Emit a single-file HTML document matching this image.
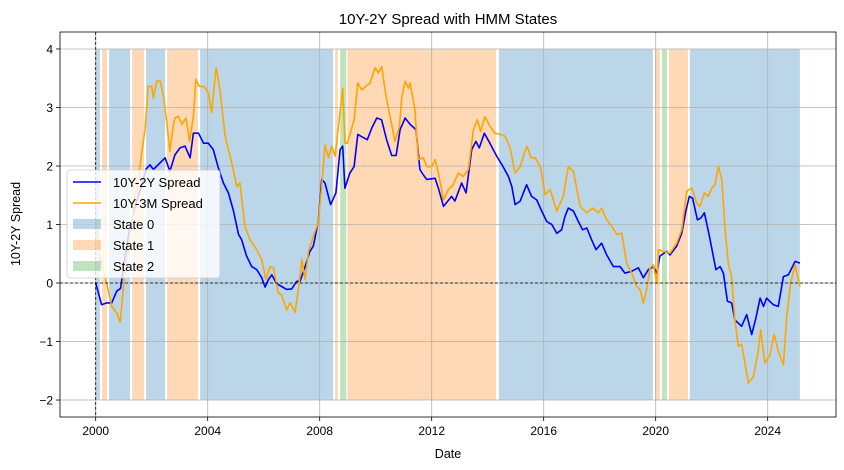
<!DOCTYPE html>
<html><head><meta charset="utf-8"><style>
body{margin:0;background:#fff;}
svg{display:block;font-family:"Liberation Sans","DejaVu Sans",sans-serif;}
</style></head><body>
<svg id="chart" width="844" height="470" viewBox="0 0 844 470" xmlns="http://www.w3.org/2000/svg">
<rect width="844" height="470" fill="#fff"/>
<g id="bands"></g>
<g id="grid"></g>
<g id="series"></g>
<g id="axes"></g>
<text x="448" y="24" text-anchor="middle" font-size="15" fill="#000">10Y-2Y Spread with HMM States</text>
<text x="448" y="458" text-anchor="middle" font-size="12.5" fill="#000">Date</text>
<text x="20" y="224" text-anchor="middle" font-size="12.5" fill="#000" transform="rotate(-90 20 224)">10Y-2Y Spread</text>
<g>
<rect x="67" y="170" width="153" height="108" rx="3" fill="#fff" fill-opacity="0.8" stroke="#ccc" stroke-width="0.8"/>
<g><line x1="73" y1="182" x2="101" y2="182" stroke="blue" stroke-width="1.5"/><text x="113" y="187" font-size="13">10Y-2Y Spread</text></g>
<g><line x1="73" y1="203" x2="101" y2="203" stroke="orange" stroke-width="1.5"/><text x="113" y="208" font-size="13">10Y-3M Spread</text></g>
<g><rect x="73" y="219" width="28" height="10" fill="#1f77b4" fill-opacity="0.3"/><text x="113" y="229" font-size="13">State 0</text></g>
<g><rect x="73" y="240" width="28" height="10" fill="#ff7f0e" fill-opacity="0.3"/><text x="113" y="250" font-size="13">State 1</text></g>
<g><rect x="73" y="261" width="28" height="10" fill="#2ca02c" fill-opacity="0.3"/><text x="113" y="271" font-size="13">State 2</text></g>
</g>
</svg>
<script>
const xTicks=[2000,2004,2008,2012,2016,2020,2024];
const yTicks=[-2,-1,0,1,2,3,4];
const bandStart=[2000.0,2000.23,2000.48,2001.3,2001.8,2002.55,2003.73,2008.55,2008.73,2008.99,2014.4,2019.97,2020.22,2020.47,2021.22];
const bandEnd=[2000.15,2000.4,2001.23,2001.73,2002.48,2003.65,2008.48,2008.65,2008.95,2014.3,2019.9,2020.15,2020.4,2021.15,2025.15];
const bandState=[0,1,0,1,0,1,0,1,2,1,0,1,2,1,0];
const t2y=[2000.0,2000.21,2000.39,2000.57,2000.75,2000.89,2001.0,2001.2,2001.4,2001.6,2001.8,2001.94,2002.06,2002.48,2002.65,2002.83,2003.01,2003.19,2003.37,2003.49,2003.67,2003.85,2004.02,2004.2,2004.38,2004.56,2004.74,2004.92,2005.1,2005.21,2005.39,2005.57,2005.75,2005.93,2006.05,2006.17,2006.29,2006.46,2006.64,2006.82,2007.0,2007.18,2007.3,2007.48,2007.65,2007.77,2007.95,2008.07,2008.19,2008.39,2008.58,2008.73,2008.82,2008.9,2009.08,2009.23,2009.36,2009.5,2009.7,2009.86,2010.04,2010.21,2010.39,2010.57,2010.73,2010.87,2011.05,2011.23,2011.44,2011.58,2011.7,2011.82,2012.12,2012.24,2012.42,2012.71,2012.83,2013.07,2013.23,2013.43,2013.58,2013.7,2013.88,2014.08,2014.32,2014.56,2014.74,2014.86,2014.98,2015.16,2015.39,2015.57,2015.75,2015.93,2016.11,2016.29,2016.47,2016.64,2016.76,2016.88,2017.06,2017.24,2017.39,2017.54,2017.71,2017.87,2018.07,2018.25,2018.49,2018.73,2018.9,2019.14,2019.38,2019.56,2019.74,2019.92,2020.04,2020.15,2020.39,2020.51,2020.75,2020.93,2021.08,2021.2,2021.32,2021.49,2021.61,2021.74,2021.92,2022.15,2022.3,2022.42,2022.56,2022.71,2022.83,2023.07,2023.25,2023.43,2023.58,2023.73,2023.85,2023.96,2024.2,2024.38,2024.56,2024.74,2024.98,2025.15];
const v2y=[0.0,-0.37,-0.34,-0.34,-0.14,-0.09,0.3,0.9,1.3,1.6,1.95,2.02,1.94,2.14,1.91,2.19,2.31,2.34,2.14,2.56,2.56,2.39,2.39,2.28,1.97,1.71,1.54,1.23,0.83,0.74,0.46,0.28,0.23,0.09,-0.07,0.06,0.14,-0.01,-0.06,-0.11,-0.1,0.03,0.03,0.28,0.54,0.63,1.05,1.77,1.71,1.34,1.54,2.28,2.34,1.62,1.88,1.99,2.54,2.5,2.45,2.65,2.82,2.79,2.45,2.18,2.18,2.62,2.82,2.71,2.62,1.94,1.85,1.77,1.79,1.62,1.31,1.48,1.4,1.71,1.54,2.28,2.42,2.31,2.56,2.39,2.17,1.98,1.82,1.65,1.34,1.4,1.68,1.48,1.42,1.23,1.05,1.0,0.85,0.91,1.14,1.28,1.23,1.05,0.91,0.94,0.74,0.57,0.68,0.48,0.28,0.28,0.17,0.2,0.26,0.09,0.23,0.28,0.17,0.46,0.54,0.48,0.63,0.85,1.23,1.48,1.45,1.08,1.11,1.2,0.8,0.23,0.28,0.17,-0.31,-0.34,-0.63,-0.74,-0.54,-0.88,-0.6,-0.26,-0.4,-0.26,-0.37,-0.4,0.11,0.14,0.37,0.34];
const t3m=[2000.0,2000.15,2000.39,2000.57,2000.75,2000.87,2001.05,2001.3,2001.58,2001.76,2001.88,2002.0,2002.06,2002.18,2002.3,2002.42,2002.54,2002.65,2002.77,2002.83,2002.95,2003.07,2003.23,2003.35,2003.49,2003.58,2003.7,2003.87,2004.02,2004.14,2004.3,2004.44,2004.62,2004.86,2005.04,2005.15,2005.33,2005.51,2005.75,2005.93,2006.08,2006.23,2006.35,2006.52,2006.64,2006.82,2006.94,2007.12,2007.24,2007.36,2007.48,2007.6,2007.77,2007.95,2008.07,2008.19,2008.31,2008.43,2008.55,2008.67,2008.82,2008.9,2008.99,2009.11,2009.23,2009.36,2009.5,2009.65,2009.8,2009.98,2010.1,2010.21,2010.37,2010.51,2010.69,2010.85,2010.93,2011.05,2011.17,2011.23,2011.4,2011.52,2011.7,2011.82,2012.0,2012.12,2012.24,2012.42,2012.6,2012.77,2012.95,2013.13,2013.31,2013.49,2013.63,2013.75,2013.9,2014.08,2014.26,2014.44,2014.62,2014.8,2014.98,2015.16,2015.28,2015.4,2015.55,2015.7,2015.88,2016.05,2016.23,2016.47,2016.7,2016.88,2017.06,2017.3,2017.54,2017.75,2017.95,2018.07,2018.25,2018.43,2018.61,2018.79,2018.96,2019.14,2019.32,2019.44,2019.56,2019.68,2019.8,2019.92,2020.04,2020.1,2020.27,2020.51,2020.75,2020.93,2021.11,2021.29,2021.46,2021.58,2021.74,2021.88,2022.0,2022.12,2022.24,2022.36,2022.48,2022.6,2022.71,2022.83,2022.95,2023.07,2023.19,2023.31,2023.49,2023.67,2023.75,2023.9,2024.08,2024.23,2024.38,2024.56,2024.68,2024.82,2024.98,2025.15];
const v3m=[1.17,0.46,0.0,-0.4,-0.51,-0.67,0.23,1.1,1.99,2.62,3.36,3.36,3.16,3.45,3.45,3.19,2.74,2.25,2.68,2.82,2.85,2.71,2.82,2.42,2.85,3.48,3.36,3.36,3.25,2.91,3.68,3.3,2.51,2.05,1.65,1.71,0.97,0.74,0.57,0.4,0.06,0.28,0.26,-0.17,-0.2,-0.46,-0.34,-0.5,-0.11,0.4,0.06,0.54,0.8,1.03,1.65,2.36,2.14,2.34,2.17,2.68,3.33,2.39,2.39,2.59,2.79,3.42,3.3,3.36,3.42,3.68,3.59,3.7,3.19,2.85,2.42,2.68,3.16,3.45,3.33,3.42,2.96,2.11,2.14,1.99,1.99,2.11,1.88,1.42,1.6,1.68,1.88,1.82,1.94,2.62,2.79,2.59,2.84,2.68,2.56,2.54,2.51,2.31,1.88,1.99,2.17,2.34,2.14,2.14,1.99,1.51,1.6,1.23,1.48,1.99,1.91,1.31,1.2,1.28,1.2,1.28,1.08,0.97,0.83,0.85,0.34,0.17,-0.06,-0.11,-0.34,-0.11,0.26,0.31,0.0,0.57,0.54,0.51,0.68,0.91,1.57,1.62,1.37,1.31,1.54,1.48,1.62,1.68,1.99,1.77,0.91,0.31,0.11,-0.63,-1.08,-1.05,-1.37,-1.71,-1.6,-1.14,-0.8,-1.37,-1.23,-0.88,-1.17,-1.4,-0.57,0.0,0.31,-0.06];

const NS='http://www.w3.org/2000/svg';
const L=60,R=836,T=32,B=417;
const X0=1998.725,X1=2026.44,Y0=-2.29,Y1=4.29;
function xs(v){return L+(v-X0)/(X1-X0)*(R-L);}
function ys(v){return B-(v-Y0)/(Y1-Y0)*(B-T);}
function mk(tag,attrs,parent){const e=document.createElementNS(NS,tag);for(const k in attrs)e.setAttribute(k,attrs[k]);parent.appendChild(e);return e;}
const bands=document.getElementById('bands'),grid=document.getElementById('grid'),series=document.getElementById('series'),axes=document.getElementById('axes');
const stateColors=['#1f77b4','#ff7f0e','#2ca02c'];
for(let i=0;i<bandStart.length;i++){
  const r=mk('rect',{x:xs(bandStart[i]),y:ys(4),width:xs(bandEnd[i])-xs(bandStart[i]),height:ys(-2)-ys(4),fill:stateColors[bandState[i]],'fill-opacity':0.3},bands);
  
  
}
xTicks.forEach(t=>{
  const g=mk('line',{x1:xs(t),x2:xs(t),y1:T,y2:B,stroke:'#b0b0b0','stroke-width':0.8},grid);
  
  
  mk('line',{x1:xs(t),x2:xs(t),y1:B,y2:B+4,stroke:'#000','stroke-width':0.8},axes);
  const tx=mk('text',{x:xs(t),y:B+18,'text-anchor':'middle','font-size':12},axes);
  tx.textContent=t;
  
  
});
yTicks.forEach(t=>{
  const g=mk('line',{x1:L,x2:R,y1:ys(t),y2:ys(t),stroke:'#b0b0b0','stroke-width':0.8},grid);
  
  
  mk('line',{x1:L-4,x2:L,y1:ys(t),y2:ys(t),stroke:'#000','stroke-width':0.8},axes);
  const tx=mk('text',{x:L-7,y:ys(t)+4.5,'text-anchor':'end','font-size':12},axes);
  tx.textContent=(t<0?'\u2212'+(-t):String(t));
  
  
});
function path(ts,vs){return ts.map((t,i)=>(i?'L':'M')+xs(t).toFixed(1)+','+ys(vs[i]).toFixed(1)).join('');}
const p2=mk('path',{d:path(t2y,v2y),fill:'none',stroke:'blue','stroke-width':1.6,'stroke-linejoin':'round'},series);


const p3=mk('path',{d:path(t3m,v3m),fill:'none',stroke:'orange','stroke-width':1.6,'stroke-linejoin':'round'},series);


const zh=mk('line',{x1:L,x2:R,y1:ys(0),y2:ys(0),stroke:'#000','stroke-width':0.8,'stroke-dasharray':'3,2'},series);


const zv=mk('line',{x1:xs(2000),x2:xs(2000),y1:T,y2:B,stroke:'#000','stroke-width':0.8,'stroke-dasharray':'3,2'},series);


const fr=mk('rect',{x:L,y:T,width:R-L,height:B-T,fill:'none',stroke:'#000','stroke-width':0.8},axes);


</script>
</body></html>
